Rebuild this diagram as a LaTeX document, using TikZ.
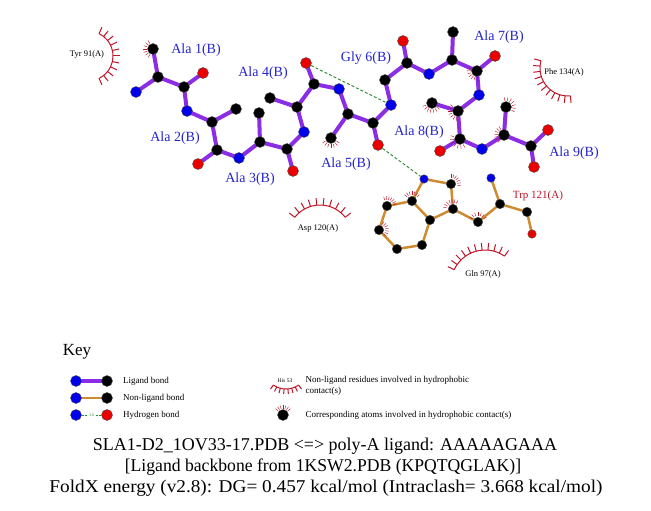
\documentclass[tikz,border=0pt]{standalone}
\usepackage{fontspec}
\setmainfont{Liberation Serif}
\usepackage{tikz}
\usetikzlibrary{positioning, calc}

\definecolor{ligpurple}{RGB}{140,45,230}
\definecolor{nlorange}{RGB}{205,140,50}
\definecolor{atomblue}{RGB}{0,0,235}
\definecolor{atomred}{RGB}{235,0,0}
\definecolor{labblue}{RGB}{35,35,205}
\definecolor{resred}{RGB}{190,20,40}
\definecolor{hbgreen}{RGB}{40,135,40}

\pgfdeclarelayer{bg}
\pgfsetlayers{bg,main}

\tikzset{
  atom/.style={circle, inner sep=0pt, minimum size=11pt, draw=black!70, line width=0.4pt},
  cat/.style={atom, fill=black},
  nat/.style={atom, fill=atomblue},
  oat/.style={atom, fill=atomred},
  tcat/.style={cat, minimum size=9.5pt},
  tnat/.style={nat, minimum size=8.5pt},
  toat/.style={oat, minimum size=8.5pt},
  lig/.style={ligpurple, line width=4pt},
  nonlig/.style={nlorange, line width=2.5pt},
  hbond/.style={hbgreen, dashed, line width=0.9pt, dash pattern=on 3pt off 2pt},
  hydro/.style={resred, line width=0.45pt},
  hydarc/.style={resred, line width=1pt},
  resname/.style={font=\fontsize{14}{16}\selectfont, text=labblue},
  ressmall/.style={font=\fontsize{8.5}{10}\selectfont},
  keytext/.style={font=\fontsize{9}{11}\selectfont, anchor=west},
  titletext/.style={font=\fontsize{18}{21}\selectfont}
}

% marks round an atom in hydrophobic contact
\newcommand{\hyd}[3]{%
  \foreach \k in {0,...,6} {
    \pgfmathsetmacro{\ang}{#2+\k*(#3-#2)/6}
    \draw[hydro] (#1.center) ++(\ang:6.2) -- ++(\ang:3.6);
  }}
% eyelash arc of a residue in hydrophobic contact
\newcommand{\resarc}[6]{%
  \draw[hydarc] (#1) ++(#3:#2) arc[start angle=#3, end angle=#4, radius=#2];
  \foreach \k in {0,...,#5} {
    \pgfmathsetmacro{\ang}{#3+\k*(#4-#3)/#5}
    \draw[hydarc] (#1) ++(\ang:#2) -- ++(\ang:#6);
  }}

\begin{document}
\begin{tikzpicture}[x=1pt, y=-1pt]
\useasboundingbox (0,0) rectangle (651,511);

% ligand atoms (poly-A chain)
\foreach \nm/\px/\py in {ca1/158/77, cb1/153/49, c1/184/87, ca2/212/122, cb2/236/109,
    c2/217/150, ca3/260/142, cb3/259/113, c3/287/149, ca4/297/107, cb4/270/98,
    c4/314/84, ca5/348/114, cb5/331/138, c5/373/123, ca6/385/80, c6/407/63,
    ca7/452/60, cb7/453/32, c7/477/71, ca8/458/111, cb8/432/103, c8/460/139,
    ca9/504/135, cb9/506/107, c9/531/146}
  \node[cat] (\nm) at (\px,\py) {};
\foreach \nm/\px/\py in {n1/136/92, n2/187/111, n3/239/158, n4/304/132, n5/339/89,
    n6/391/105, n7/429/74, n8/479/95, n9/482/149}
  \node[nat] (\nm) at (\px,\py) {};
\foreach \nm/\px/\py in {o1/203/73, o2/198/164, o3/293/171, o4/306/63, o5/378/145,
    o6/403/41, o7/495/56, o8/440/151, oa9/548/130, ob9/534/167}
  \node[oat] (\nm) at (\px,\py) {};

% Trp 121(A)
\foreach \nm/\px/\py in {tca/500/204, tcb/478/222, tc/527/212, tcg/453/209, tcd1/451/184,
    tce2/412/201, tcd2/430/220, tcz2/387/206, tch2/379/230, tcz3/397/249, tce3/422/245}
  \node[tcat] (\nm) at (\px,\py) {};
\node[tnat] (tn) at (491,178) {};
\node[tnat] (tne1) at (424,179) {};
\node[toat] (tO) at (532,234) {};

\begin{pgfonlayer}{bg}
\foreach \a/\b in {n1/ca1, ca1/cb1, ca1/c1, c1/o1, c1/n2, n2/ca2, ca2/cb2, ca2/c2, c2/o2,
    c2/n3, n3/ca3, ca3/cb3, ca3/c3, c3/o3, c3/n4, n4/ca4, ca4/cb4, ca4/c4, c4/o4, c4/n5,
    n5/ca5, ca5/cb5, ca5/c5, c5/o5, c5/n6, n6/ca6, ca6/c6, c6/o6, c6/n7, n7/ca7, ca7/cb7,
    ca7/c7, c7/o7, c7/n8, n8/ca8, ca8/cb8, ca8/c8, c8/o8, c8/n9, n9/ca9, ca9/cb9, ca9/c9,
    c9/oa9, c9/ob9}
  \draw[lig] (\a.center) -- (\b.center);
\foreach \a/\b in {tn/tca, tca/tcb, tca/tc, tc/tO, tcb/tcg, tcg/tcd1, tcd1/tne1,
    tne1/tce2, tce2/tcd2, tcd2/tcg, tce2/tcz2, tcz2/tch2, tch2/tcz3, tcz3/tce3, tce3/tcd2}
  \draw[nonlig] (\a.center) -- (\b.center);
\end{pgfonlayer}

% hydrogen bonds
\draw[hbond] (o4) -- (n6);
\draw[hbond] (o5) -- (tne1);

% hydrophobic contacts
\hyd{cb1}{120}{240}
\hyd{cb5}{30}{150}
\hyd{c7}{90}{200}
\hyd{cb8}{40}{160}
\hyd{ca8}{100}{220}
\hyd{c8}{60}{200}
\hyd{ca9}{130}{240}
\hyd{cb9}{-100}{30}
\hyd{tcd1}{-90}{10}
\hyd{tcg}{190}{300}
\hyd{tce2}{220}{320}
\hyd{tcz2}{250}{350}
\hyd{tch2}{-60}{40}
\hyd{tcb}{210}{330}

\resarc{88,56}{25}{-64}{64}{10}{7}
\resarc{568,68}{28}{85}{195}{10}{7}
\resarc{320,237}{32}{218}{322}{9}{7}
\resarc{485,284}{34}{205}{305}{10}{7}

% residue names
\node[resname] (lab1) at (196,50) {Ala 1(B)};
\node[resname] (lab2) at (175,138) {Ala 2(B)};
\node[resname] (lab3) at (250,179) {Ala 3(B)};
\node[resname] (lab4) at (263,73) {Ala 4(B)};
\node[resname] (lab5) at (346,164) {Ala 5(B)};
\node[resname] (lab6) at (366,58) {Gly 6(B)};
\node[resname] (lab7) at (499,37) {Ala 7(B)};
\node[resname] (lab8) at (419,132) {Ala 8(B)};
\node[resname] (lab9) at (574,153) {Ala 9(B)};
\node[font=\fontsize{11}{13}\selectfont, text=resred] (trp) at (538,196) {Trp 121(A)};
\node[ressmall] (tyr) at (87,54) {Tyr 91(A)};
\node[ressmall] (phe) at (564,72) {Phe 134(A)};
\node[ressmall] (asp) at (318,228) {Asp 120(A)};
\node[ressmall] (gln) at (483,274) {Gln 97(A)};

% Key
\node[font=\fontsize{17}{20}\selectfont] (key) at (77,352) {Key};
\node[nat] (kn1) at (76,381) {};
\node[cat] (kc1) at (107,381) {};
\node[nat] (kn2) at (76,398) {};
\node[cat] (kc2) at (107,398) {};
\node[nat] (kn3) at (76,415) {};
\node[oat] (ko3) at (107,415) {};
\begin{pgfonlayer}{bg}
\draw[lig] (kn1.center) -- (kc1.center);
\draw[nonlig] (kn2.center) -- (kc2.center);
\end{pgfonlayer}
\draw[hbond, dash pattern=on 2pt off 1.5pt] (kn3) -- node[fill=white, inner sep=0.5pt, font=\fontsize{4}{4}\selectfont, text=hbgreen] (kdist) {3.0} (ko3);
\node[keytext, right=7pt of kc1] (kt1) {Ligand bond};
\node[keytext, right=7pt of kc2] (kt2) {Non-ligand bond};
\node[keytext, right=7pt of ko3] (kt3) {Hydrogen bond};

\resarc{286,367}{22}{55}{125}{7}{5}
\node[font=\fontsize{5.5}{6}\selectfont] (khis) at (285,381) {His 53};
\node[keytext, align=left] (kt4) at (302,386) {Non-ligand residues involved in hydrophobic\\contact(s)};
\node[cat] (kc5) at (283,415) {};
\hyd{kc5}{220}{320}
\node[keytext] (kt5) at (302,415) {Corresponding atoms involved in hydrophobic contact(s)};

% title
\node[titletext] (t1) at (325,446) {SLA1-D2\_1OV33-17.PDB <=> poly-A ligand: AAAAAGAAA};
\node[titletext] (t2) at (323,467) {\scalebox{0.98}[1]{[Ligand backbone from 1KSW2.PDB (KPQTQGLAK)]}};
\node[titletext] (t3) at (326,488) {\scalebox{1.07}[1]{FoldX energy (v2.8): DG= 0.457 kcal/mol (Intraclash= 3.668 kcal/mol)}};
\end{tikzpicture}
\end{document}
